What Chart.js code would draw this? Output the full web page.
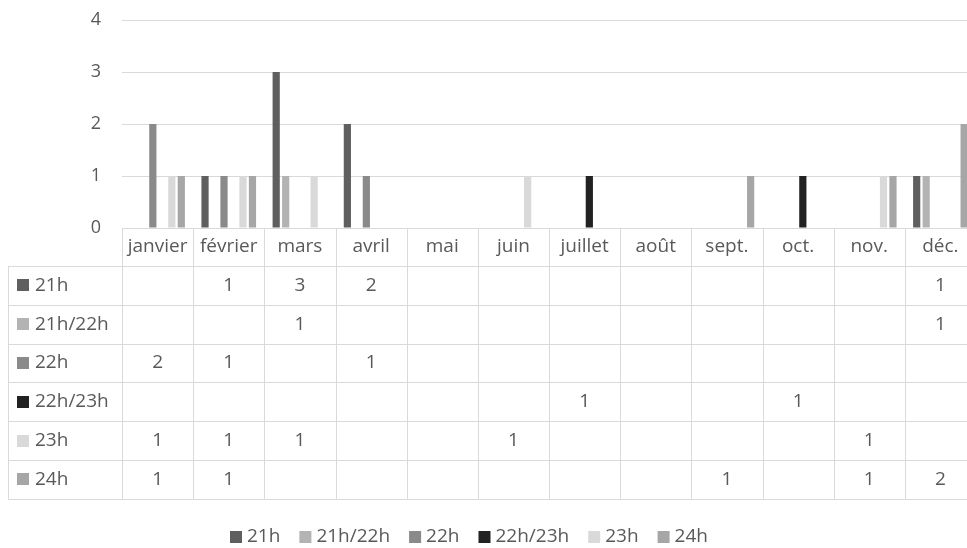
<!DOCTYPE html>
<html>
<head>
<meta charset="utf-8">
<script src="https://cdn.jsdelivr.net/npm/chart.js@4/dist/chart.umd.min.js"></script>
<style>
  html, body { margin: 0; padding: 0; background: #fff; overflow: hidden; }
  #wrap { position: relative; width: 977px; height: 548px; }
</style>
</head>
<body>
<div id="wrap"><canvas id="c"></canvas></div>
<script>
// Months (categories)
const months = ['janvier', 'février', 'mars', 'avril', 'mai', 'juin', 'juillet', 'août', 'sept.', 'oct.', 'nov.', 'déc.'];
// Series names
const seriesNames = ['21h', '21h/22h', '22h', '22h/23h', '23h', '24h'];
// Counts per month for each time slot (null = empty cell)
const h21    = [null, 1, 3, 2, null, null, null, null, null, null, null, 1];
const h21_22 = [null, null, 1, null, null, null, null, null, null, null, null, 1];
const h22    = [2, 1, null, 1, null, null, null, null, null, null, null, null];
const h22_23 = [null, null, null, null, null, null, 1, null, null, 1, null, null];
const h23    = [1, 1, 1, null, null, 1, null, null, null, null, 1, null];
const h24    = [1, 1, null, null, null, null, null, null, 1, null, 1, 2];
// Value axis ticks
const yTicks = [0, 1, 2, 3, 4];

const seriesValues = [h21, h21_22, h22, h22_23, h23, h24];
const seriesColors = ['#5f5f5f', '#b3b3b3', '#8a8a8a', '#222222', '#d9d9d9', '#a6a6a6'];

const FONT = '"Open Sans", sans-serif';
const TEXT = '#595959';
const LINE = '#d9d9d9';

// Data table under the plot plus a bottom legend, laid out on the x scale's columns
const dataTablePlugin = {
  id: 'dataTable',
  afterDraw(chart) {
    const ctx = chart.ctx;
    const xs = chart.scales.x;
    const area = chart.chartArea;
    const colW = xs.getPixelForValue(1) - xs.getPixelForValue(0);
    const left = area.left;
    const top = area.bottom;
    const headH = 38;
    const rowH = 38.8;
    const tableLeft = 8;
    const nRows = chart.data.datasets.length;
    const bodyTop = top + headH;
    const bottom = bodyTop + nRows * rowH;
    const px = v => Math.round(v) + 0.5;

    ctx.save();
    ctx.strokeStyle = LINE;
    ctx.lineWidth = 1;
    ctx.beginPath();
    // column borders (header + body)
    for (let i = 0; i <= months.length; i++) {
      const x = px(left + i * colW);
      ctx.moveTo(x, top);
      ctx.lineTo(x, bottom);
    }
    // left border of the label column
    ctx.moveTo(px(tableLeft), bodyTop);
    ctx.lineTo(px(tableLeft), bottom);
    // row borders
    for (let r = 0; r <= nRows; r++) {
      const y = px(bodyTop + r * rowH);
      ctx.moveTo(tableLeft, y);
      ctx.lineTo(area.right, y);
    }
    ctx.stroke();

    ctx.fillStyle = TEXT;
    ctx.font = '19px ' + FONT;
    ctx.textBaseline = 'middle';
    ctx.textAlign = 'center';
    // header labels
    chart.data.labels.forEach((lab, i) => {
      ctx.fillText(lab, xs.getPixelForValue(i), top + headH / 2);
    });
    // body rows
    chart.data.datasets.forEach((ds, r) => {
      const cy = bodyTop + r * rowH + rowH / 2;
      ctx.fillStyle = ds.backgroundColor;
      ctx.fillRect(17, Math.round(cy - 6), 12, 12);
      ctx.fillStyle = TEXT;
      ctx.textAlign = 'left';
      ctx.fillText(ds.label, 35, cy);
      ctx.textAlign = 'center';
      ds.data.forEach((v, i) => {
        if (v !== null) ctx.fillText(String(v), xs.getPixelForValue(i), cy);
      });
    });

    // legend
    const legY = 537;
    let lx = 230;
    chart.data.datasets.forEach(ds => {
      ctx.fillStyle = ds.backgroundColor;
      ctx.fillRect(lx, legY - 6, 12, 12);
      ctx.fillStyle = TEXT;
      ctx.textAlign = 'left';
      ctx.fillText(ds.label, lx + 17, legY);
      lx += 17 + ctx.measureText(ds.label).width + 19;
    });
    ctx.restore();
  }
};

new Chart(document.getElementById('c'), {
  type: 'bar',
  data: {
    labels: months,
    datasets: seriesNames.map((name, i) => ({
      label: name,
      data: seriesValues[i],
      backgroundColor: seriesColors[i],
      categoryPercentage: 0.8,
      barPercentage: 0.76
    }))
  },
  options: {
    responsive: true,
    maintainAspectRatio: false,
    animation: false,
    layout: { padding: { top: 20, right: 1, bottom: 320, left: 0 } },
    plugins: { legend: { display: false }, tooltip: { enabled: false } },
    scales: {
      x: { display: false, offset: true },
      y: {
        min: 0, max: 4,
        afterFit(scale) {
          scale.width = 122;
          scale.paddingTop = 0;
          scale.paddingBottom = 0;
        },
        afterBuildTicks(scale) { scale.ticks = yTicks.map(v => ({ value: v })); },
        grid: { color: LINE, lineWidth: 1, drawTicks: false },
        border: { display: false },
        ticks: { color: TEXT, font: { family: FONT, size: 18 }, padding: 21 }
      }
    }
  },
  plugins: [dataTablePlugin]
});
</script>
</body>
</html>
